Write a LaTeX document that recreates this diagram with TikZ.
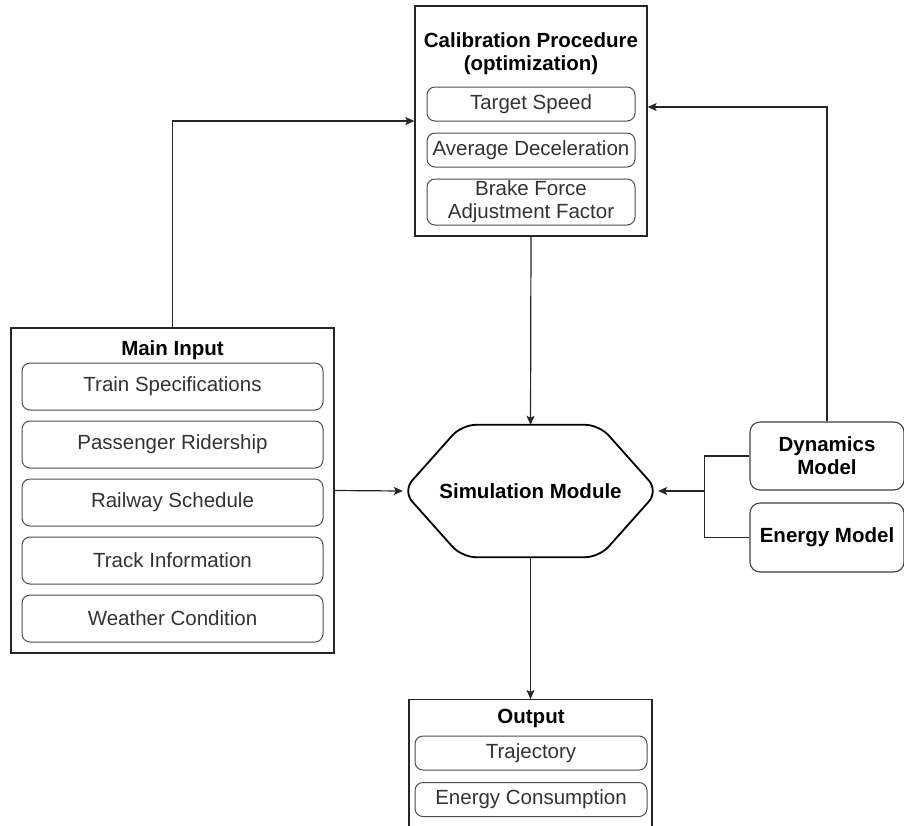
\documentclass[tikz,border=0pt]{standalone}
\usepackage{fontspec}
\setmainfont{Liberation Sans}
\usetikzlibrary{arrows.meta,calc}

\newcommand{\diafont}{\fontsize{20.5pt}{23pt}\selectfont}

\tikzset{
  outerbox/.style={draw=black!85,line width=1.3pt,fill=white,inner sep=0pt},
  itembox/.style={draw=black!70,line width=1pt,rounded corners=8pt,text=black!80,
    align=center,inner sep=0pt,minimum width=208pt,minimum height=34pt},
  modelbox/.style={draw=black!75,line width=1.1pt,rounded corners=10pt,align=center,
    font=\diafont\bfseries,inner sep=0pt,minimum width=154pt},
  titletext/.style={font=\diafont\bfseries,align=center},
  link/.style={draw=black!85,line width=1.2pt},
  arrow/.style={link,-{Stealth[length=9pt,width=8pt,inset=2pt]}},
}

\begin{document}
\begin{tikzpicture}[x=1pt,y=-1pt,every node/.style={font=\diafont}]
  \fill[white] (0,0) rectangle (904,825);
  \useasboundingbox (0,0) rectangle (904,825);

  % calibration procedure
  \node[outerbox,minimum width=232pt,minimum height=230pt] (calib) at (531,121) {};
  \node[titletext] (calibtitle) at (531,54) {Calibration Procedure\\(optimization)};
  \node[itembox] (tspeed) at (531,104) {Target Speed};
  \node[itembox] (adecel) at (531,150) {Average Deceleration};
  \node[itembox,minimum height=46pt] (bforce) at (531,202) {Brake Force\\Adjustment Factor};

  % main input
  \node[outerbox,minimum width=323pt,minimum height=325pt] (input) at (172.5,490.5) {};
  \node[titletext] (inputtitle) at (172.5,350) {Main Input};
  \foreach \nm/\txt [count=\i from 0] in {spec/Train Specifications,rider/Passenger Ridership,
      sched/Railway Schedule,track/Track Information,weather/Weather Condition}
    \node[itembox,minimum width=301pt,minimum height=47pt] (\nm) at (172.5,{386.5+58*\i}) {\txt};

  % simulation module
  \node[titletext,minimum width=255pt,minimum height=132pt,inner sep=0pt] (sim) at (530.5,491) {Simulation Module};
  \draw[line width=1.8pt,rounded corners=14pt] (sim.west) -- ($(sim.north west)+(59,0)$)
    -- ($(sim.north east)+(-59,0)$) -- (sim.east) -- ($(sim.south east)+(-59,0)$)
    -- ($(sim.south west)+(59,0)$) -- cycle;

  % output
  \node[outerbox,minimum width=243pt,minimum height=135pt,anchor=north] (output) at (530.5,699) {};
  \node[titletext] (outtitle) at (531,718) {Output};
  \node[itembox,minimum width=232pt] (traj) at (531,753) {Trajectory};
  \node[itembox,minimum width=232pt] (econs) at (531,799.5) {Energy Consumption};

  % models
  \node[modelbox,minimum height=68pt] (dyn) at (827,456) {Dynamics\\Model};
  \node[modelbox,minimum height=69pt] (energy) at (827,537.5) {Energy Model};

  % connectors
  \draw[arrow] (input.north) |- (calib.west);
  \draw[arrow] (dyn.north) |- ($(calib.east)+(0,-14)$);
  \draw[arrow] (calib.south) -- (sim.north);
  \draw[arrow] (input.east) -- (sim.west);
  \coordinate (fork) at ($(sim.east)+(46,0)$);
  \draw[link] (dyn.west) -| (fork) |- (energy.west);
  \draw[arrow] (fork) -- (sim.east);
  \draw[arrow] (sim.south) -- (output.north);
\end{tikzpicture}
\end{document}
